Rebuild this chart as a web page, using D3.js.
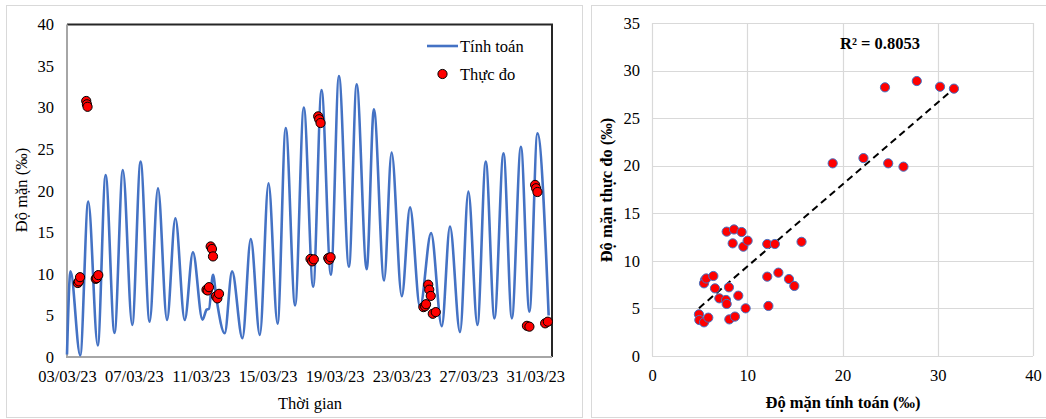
<!DOCTYPE html>
<meta charset="utf-8">
<style>
  body { margin: 0; background: #fff; }
  svg { font-family: "Liberation Serif", "Times New Roman", serif; }
  svg text { font-family: "Liberation Serif", "Times New Roman", serif; }
  .tick line { display: none; }
  .domain { display: none; }
</style>
<svg id="svg" width="1046" height="419"></svg>
<script src="https://cdn.jsdelivr.net/npm/d3@7/dist/d3.min.js"></script>
<script>

// ---------------------------------------------------------------------------
//                               DATA
// ---------------------------------------------------------------------------
// Simulated salinity (Tính toán): days after 03/03/23 00:00, peaks and troughs
var simDay = [0.00, 0.21, 0.79, 1.27, 1.84, 2.31, 2.84, 3.34, 3.90, 4.40,
              4.94, 5.44, 5.98, 6.48, 7.04, 7.53, 8.10, 8.35, 8.49, 8.73,
              8.93, 9.43, 9.87, 10.49, 10.99, 11.53, 12.05, 12.59, 13.08, 13.64,
              14.16, 14.72, 15.22, 15.78, 16.26, 16.86, 17.32, 17.92, 18.35, 18.96,
              19.41, 20.02, 20.51, 21.11, 21.77, 22.41, 22.90, 23.50, 24.00, 24.54,
              25.04, 25.56, 26.10, 26.60, 27.14, 27.65, 28.13, 28.80];
var simVal = [0.3, 10.3, 0.2, 18.7, 1.4, 21.9, 2.9, 22.5, 3.85, 23.5,
              4.25, 20.3, 4.45, 16.7, 4.45, 12.6, 4.5, 5.7, 5.8, 9.9,
              7.1, 2.85, 10.3, 2.25, 14.2, 2.65, 20.9, 4.0, 27.55, 6.2,
              30.0, 8.45, 32.1, 9.9, 33.8, 10.85, 32.8, 10.55, 29.8, 9.2,
              24.6, 7.3, 18.0, 6.0, 14.9, 3.7, 15.7, 3.0, 19.9, 3.85,
              23.5, 4.65, 24.5, 4.65, 25.3, 5.45, 26.9, 5.0];

// Observed salinity (Thực đo)
var obsDay = [1.15, 1.19, 1.23, 0.65, 0.71, 0.78, 1.72, 1.78, 1.87,
              8.59, 8.67, 8.73, 8.34, 8.41, 8.49, 8.91, 8.99, 9.09,
              14.56, 14.66, 14.76, 15.02, 15.08, 15.16, 15.62, 15.68, 15.76,
              21.31, 21.41, 21.47, 21.60, 21.66, 21.75, 21.87, 22.05,
              27.50, 27.65, 27.99, 28.05, 28.13, 28.59, 28.75];
var obsVal = [30.8, 30.4, 30.1, 8.9, 9.1, 9.6, 9.4, 9.5, 9.85,
              13.3, 13.0, 12.1, 8.1, 8.0, 8.4, 7.3, 7.05, 7.6,
              11.8, 11.5, 11.75, 28.95, 28.6, 28.15, 11.9, 11.7, 12.0,
              6.0, 6.1, 6.35, 8.7, 8.1, 7.35, 5.2, 5.4,
              3.75, 3.65, 20.7, 20.3, 19.85, 4.05, 4.25];

// Scatter: simulated vs observed
var scatSim = [18.97, 22.2, 24.46, 24.8, 26.4, 27.8, 30.24, 31.7,
               7.84, 8.61, 9.41, 8.47, 9.59, 10.04, 12.1, 12.9, 15.7,
               5.56, 5.46, 5.7, 6.44, 6.61, 8.08, 7.07, 7.77, 7.84, 9.06, 9.83,
               12.1, 13.27, 14.38, 14.94, 12.22,
               4.93, 4.97, 5.46, 5.91, 8.12, 8.71];
var scatObs = [20.25, 20.8, 28.24, 20.25, 19.9, 28.9, 28.3, 28.1,
               13.07, 13.3, 13.03, 11.84, 11.49, 12.12, 11.77, 11.77, 12.0,
               7.99, 7.64, 8.15, 8.41, 7.11, 7.22, 6.06, 5.89, 5.47, 6.34, 5.01,
               8.34, 8.76, 8.09, 7.36, 5.26,
               4.38, 3.78, 3.54, 4.03, 3.85, 4.14];

var trendSlope = 0.862, trendIntercept = 0.78;
var r2Label = "R² = 0.8053";

var dateTicks = ["03/03/23", "07/03/23", "11/03/23", "15/03/23",
                 "19/03/23", "23/03/23", "27/03/23", "31/03/23"];
var salTicks = [0, 5, 10, 15, 20, 25, 30, 35, 40];
var scatXTicks = [0, 10, 20, 30, 40];
var scatYTicks = [0, 5, 10, 15, 20, 25, 30, 35];

// ---------------------------------------------------------------------------
//                               SETUP
// ---------------------------------------------------------------------------
var svg = d3.select("#svg");
var parse = d3.timeParse("%d/%m/%y");
var t0 = parse("03/03/23");
function dayToDate(d) { return new Date(t0.getTime() + d * 864e5); }

// style axis labels the Excel way
function styleAxis(g) {
  g.attr("font-family", null).attr("font-size", null);
  g.selectAll("text").attr("font-size", "16.5px").attr("fill", "#000");
}

// Panel frames
svg.append("rect").attr("x", 6.5).attr("y", 5.5).attr("width", 576).attr("height", 412)
   .attr("fill", "#fff").attr("stroke", "#d9d9d9");
svg.append("rect").attr("x", 591.5).attr("y", 5.5).attr("width", 460).attr("height", 412)
   .attr("fill", "#fff").attr("stroke", "#d9d9d9");

// ---------------------------------------------------------------------------
//                          LEFT: time series
// ---------------------------------------------------------------------------
var x = d3.scaleTime().domain([t0, parse("01/04/23")]).range([67, 552]);
var y = d3.scaleLinear().domain([0, 40]).range([357, 24.5]);

var left = svg.append("g");

// plot border (top/right dark, left/bottom grey)
left.append("path")
    .attr("d", "M67," + y(40) + "H552V" + y(0))
    .attr("fill", "none").attr("stroke", "#262626").attr("stroke-width", 2);
left.append("path")
    .attr("d", "M67," + y(40) + "V" + y(0) + "H552")
    .attr("fill", "none").attr("stroke", "#a6a6a6").attr("stroke-width", 2);

left.append("g")
    .attr("transform", "translate(0," + y(0) + ")")
    .call(d3.axisBottom(x).tickValues(dateTicks.map(parse))
          .tickFormat(d3.timeFormat("%d/%m/%y")).tickSize(0).tickPadding(13))
    .call(styleAxis);

left.append("g")
    .attr("transform", "translate(67,0)")
    .call(d3.axisLeft(y).tickValues(salTicks).tickSize(0).tickPadding(13))
    .call(styleAxis);

left.append("text")
    .attr("x", 310).attr("y", 409).attr("text-anchor", "middle")
    .attr("font-size", "16.5px").text("Thời gian");
left.append("text")
    .attr("transform", "translate(27,190) rotate(-90)").attr("text-anchor", "middle")
    .attr("font-size", "16.5px").text("Độ mặn (‰)");

var simData = simDay.map(function(d, i) { return [dayToDate(d), simVal[i]]; });
left.append("path")
    .datum(simData)
    .attr("fill", "none").attr("stroke", "#4472C4").attr("stroke-width", 2.6)
    .attr("d", d3.line()
        .x(function(d) { return x(d[0]); })
        .y(function(d) { return y(d[1]); })
        .curve(d3.curveMonotoneX));

left.selectAll("circle.obs")
    .data(obsDay.map(function(d, i) { return [dayToDate(d), obsVal[i]]; }))
    .enter().append("circle")
    .attr("class", "obs")
    .attr("cx", function(d) { return x(d[0]); })
    .attr("cy", function(d) { return y(d[1]); })
    .attr("r", 4.6)
    .attr("fill", "#ff0000").attr("stroke", "#000").attr("stroke-width", 1);

// legend
var lg = left.append("g");
lg.append("line").attr("x1", 427).attr("x2", 458).attr("y1", 46).attr("y2", 46)
  .attr("stroke", "#4472C4").attr("stroke-width", 2.6);
lg.append("text").attr("x", 460).attr("y", 52).attr("font-size", "16.5px").text("Tính toán");
lg.append("circle").attr("cx", 442.5).attr("cy", 74).attr("r", 4.6)
  .attr("fill", "#ff0000").attr("stroke", "#000").attr("stroke-width", 1);
lg.append("text").attr("x", 460).attr("y", 80).attr("font-size", "16.5px").text("Thực đo");

// ---------------------------------------------------------------------------
//                          RIGHT: scatter
// ---------------------------------------------------------------------------
var sx = d3.scaleLinear().domain([0, 40]).range([652, 1033]);
var sy = d3.scaleLinear().domain([0, 35]).range([356, 23]);

var right = svg.append("g");

right.selectAll("line.gx").data(scatXTicks).enter().append("line")
    .attr("x1", function(d) { return Math.round(sx(d)) + 0.5; })
    .attr("x2", function(d) { return Math.round(sx(d)) + 0.5; })
    .attr("y1", sy(35)).attr("y2", sy(0))
    .attr("stroke", "#d9d9d9").attr("stroke-width", 1.2);
right.selectAll("line.gy").data(scatYTicks).enter().append("line")
    .attr("y1", function(d) { return Math.round(sy(d)) + 0.5; })
    .attr("y2", function(d) { return Math.round(sy(d)) + 0.5; })
    .attr("x1", sx(0)).attr("x2", sx(40))
    .attr("stroke", "#d9d9d9").attr("stroke-width", 1.2);

right.append("g")
    .attr("transform", "translate(0," + sy(0) + ")")
    .call(d3.axisBottom(sx).tickValues(scatXTicks).tickSize(0).tickPadding(13))
    .call(styleAxis);
right.append("g")
    .attr("transform", "translate(" + sx(0) + ",0)")
    .call(d3.axisLeft(sy).tickValues(scatYTicks).tickSize(0).tickPadding(12))
    .call(styleAxis);

right.append("text")
    .attr("x", 843).attr("y", 408).attr("text-anchor", "middle")
    .attr("font-size", "16.5px").attr("font-weight", "bold").text("Độ mặn tính toán (‰)");
right.append("text")
    .attr("transform", "translate(612,190) rotate(-90)").attr("text-anchor", "middle")
    .attr("font-size", "16.5px").attr("font-weight", "bold").text("Độ mặn thực đo (‰)");

// trend line across the simulated range
var tx = d3.extent(scatSim);
right.append("line")
    .attr("x1", sx(tx[0])).attr("y1", sy(trendIntercept + trendSlope * tx[0]))
    .attr("x2", sx(tx[1])).attr("y2", sy(trendIntercept + trendSlope * tx[1]))
    .attr("stroke", "#000").attr("stroke-width", 2).attr("stroke-dasharray", "7,4.5");

right.selectAll("circle.pt")
    .data(scatSim.map(function(d, i) { return [d, scatObs[i]]; }))
    .enter().append("circle")
    .attr("class", "pt")
    .attr("cx", function(d) { return sx(d[0]); })
    .attr("cy", function(d) { return sy(d[1]); })
    .attr("r", 4.6)
    .attr("fill", "#ff0000").attr("stroke", "#4472C4").attr("stroke-width", 1);

right.append("text")
    .attr("x", 880).attr("y", 49).attr("text-anchor", "middle")
    .attr("font-size", "16.5px").attr("font-weight", "bold").text(r2Label);

</script>
